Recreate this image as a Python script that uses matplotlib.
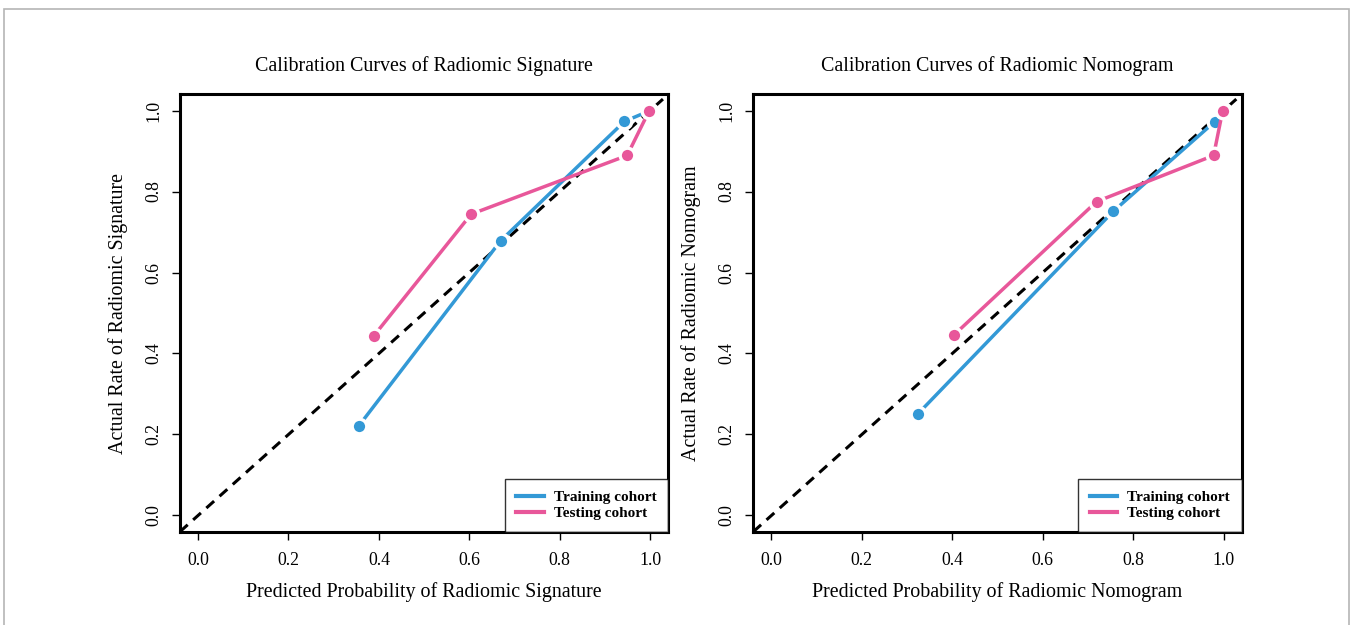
import numpy as np
import matplotlib
matplotlib.use("Agg")
import matplotlib.pyplot as plt
from matplotlib.patches import Rectangle

plt.rcParams.update({
    "font.family": "Liberation Serif",
    "axes.unicode_minus": False,
})

C_TRAIN, C_TEST = "#3399d6", "#e8579a"

# calibration points
sig_train_x = [0.356, 0.669, 0.943, 1.0]
sig_train_y = [0.222, 0.678, 0.973, 1.0]
sig_test_x = [0.389, 0.604, 0.949, 0.998]
sig_test_y = [0.444, 0.744, 0.889, 1.0]

nom_train_x = [0.324, 0.756, 0.980, 1.0]
nom_train_y = [0.251, 0.751, 0.972, 1.0]
nom_test_x = [0.403, 0.719, 0.978, 0.998]
nom_test_y = [0.445, 0.775, 0.889, 1.0]

ticks = [0.0, 0.2, 0.4, 0.6, 0.8, 1.0]
tick_labels = ["0.0", "0.2", "0.4", "0.6", "0.8", "1.0"]


def calib_panel(ax, tx, ty, sx, sy, title, xlabel, ylabel):
    ax.axline((0, 0), (1, 1), color="black", lw=2.2, ls=(0, (3.4, 2.4)), zorder=2)
    kw = dict(marker="o", ms=10.5, mew=2.4, mec="white", lw=2.5, zorder=3)
    ax.plot(tx, ty, color=C_TRAIN, mfc=C_TRAIN, label="Training cohort", **kw)
    ax.plot(sx, sy, color=C_TEST, mfc=C_TEST, label="Testing cohort", **kw)
    ax.set_xlim(-0.04, 1.04)
    ax.set_ylim(-0.04, 1.04)
    ax.set_xticks(ticks)
    ax.set_xticklabels(tick_labels, fontsize=12.8)
    ax.set_yticks(ticks)
    ax.set_yticklabels(tick_labels, fontsize=12.8, rotation=90, va="center")
    ax.tick_params(direction="out", length=5.8, width=1.0)
    ax.tick_params(axis="x", pad=8.5)
    ax.tick_params(axis="y", pad=7)
    for s in ax.spines.values():
        s.set_linewidth(2.2)
    ax.set_title(title, fontsize=14.4, pad=17)
    ax.set_xlabel(xlabel, fontsize=14.4)
    ax.set_ylabel(ylabel, fontsize=14.4)
    ax.xaxis.label.set_verticalalignment("center")
    ax.yaxis.label.set_verticalalignment("center")
    ax.xaxis.set_label_coords(0.5, -0.137)
    ax.yaxis.set_label_coords(-0.127, 0.5)
    leg = ax.legend(loc="lower right", borderaxespad=0, fancybox=False,
                    prop={"weight": "bold", "size": 11}, handlelength=1.8,
                    handletextpad=0.68, borderpad=0.75, labelspacing=0.15)
    leg.get_frame().set_edgecolor("black")
    leg.get_frame().set_linewidth(1.0)
    for h in leg.get_lines():
        h.set_marker("")
        h.set_linewidth(3)


fig = plt.figure(figsize=(13.52, 6.25), dpi=100)
ax1 = fig.add_axes([0.1331, 0.1493, 0.3612, 0.6998])
ax2 = fig.add_axes([0.5572, 0.1493, 0.3612, 0.6998])

calib_panel(ax1, sig_train_x, sig_train_y, sig_test_x, sig_test_y,
            "Calibration Curves of Radiomic Signature",
            "Predicted Probability of Radiomic Signature",
            "Actual Rate of Radiomic Signature")
calib_panel(ax2, nom_train_x, nom_train_y, nom_test_x, nom_test_y,
            "Calibration Curves of Radiomic Nomogram",
            "Predicted Probability of Radiomic Nomogram",
            "Actual Rate of Radiomic Nomogram")

fig.patches.append(Rectangle((4 / 1352, -0.05), 1345 / 1352, 1.05 - 9 / 625,
                             transform=fig.transFigure, fill=False,
                             edgecolor="#b5b5b5", lw=1.2))

fig.savefig("out.png", dpi=100, facecolor="white")
